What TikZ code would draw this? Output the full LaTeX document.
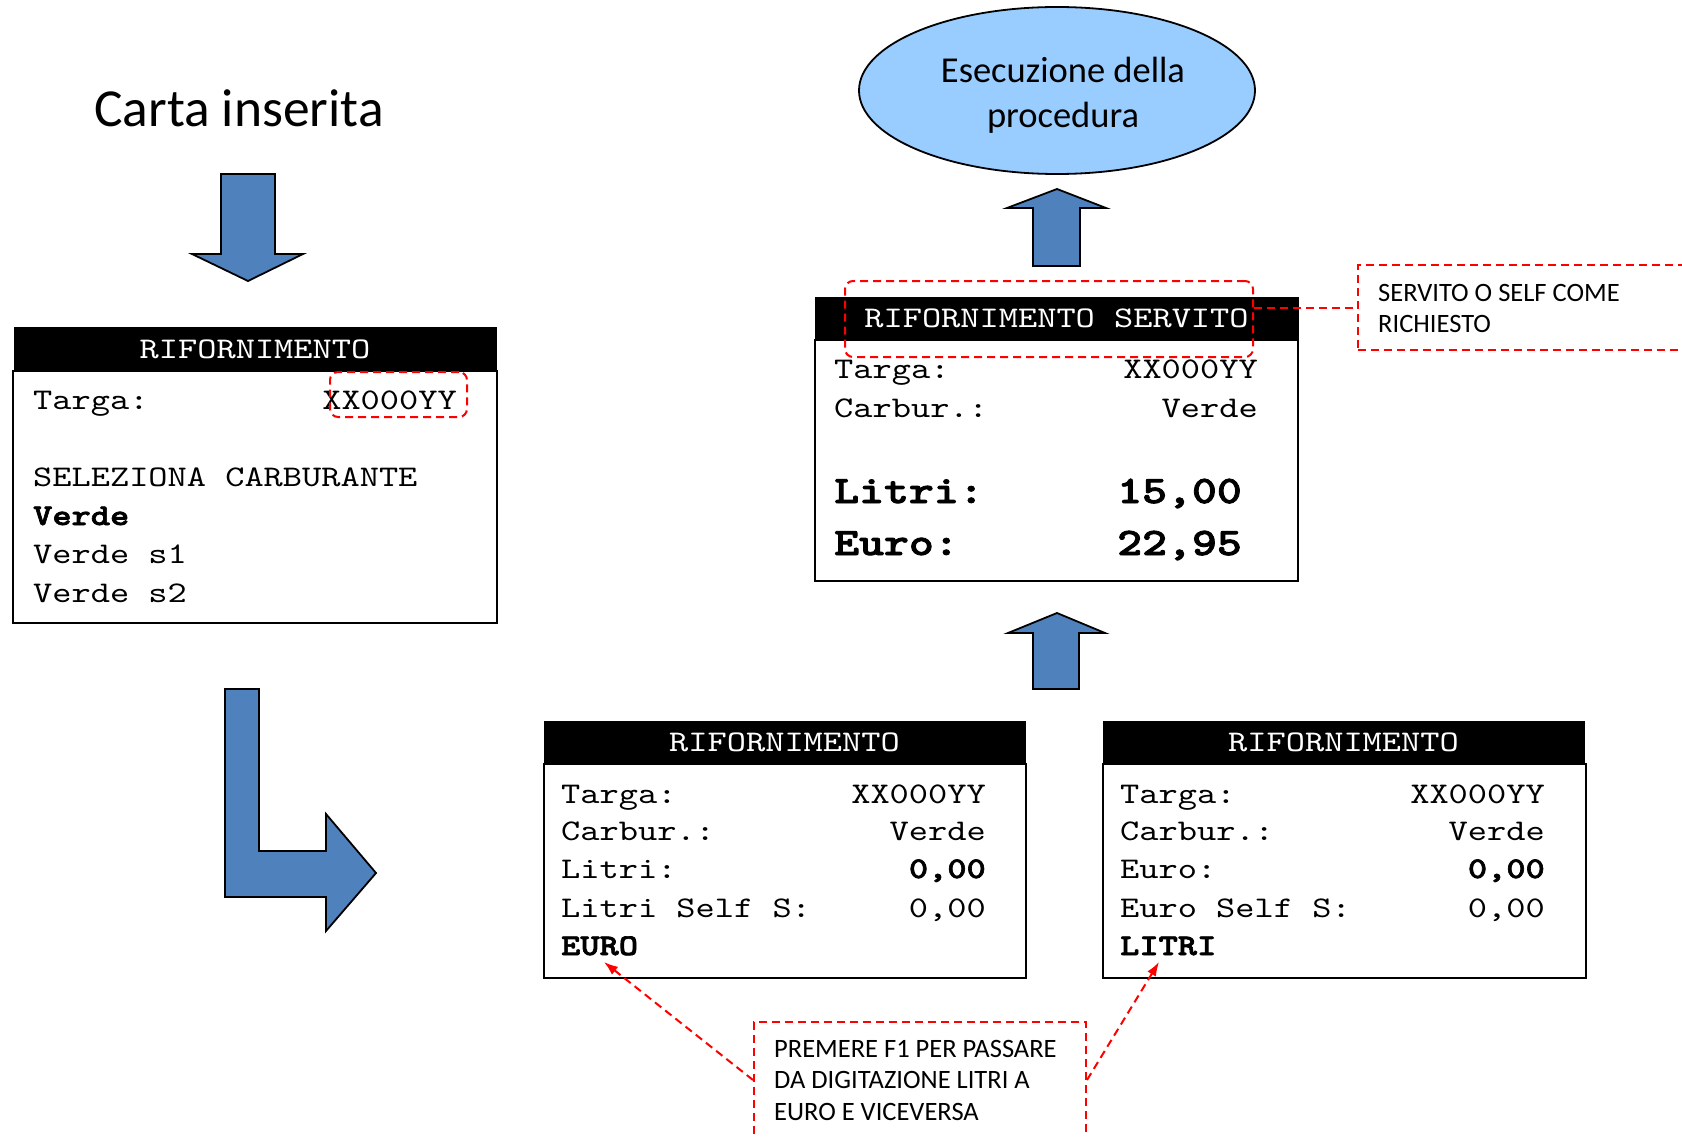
\documentclass[tikz,border=0pt]{standalone}
\usepackage{fontspec}
\usetikzlibrary{shapes.geometric,arrows.meta}
\newfontfamily\boxfont{lmmono10-regular}[Extension=.otf, BoldFont=lmmonolt10-bold, BoldFeatures={FakeBold=2.2}, FakeStretch=1.22]
\newfontfamily\notefont{Carlito}
\definecolor{arrowblue}{HTML}{4F81BD}
\definecolor{ellblue}{HTML}{99CCFF}
\definecolor{notered}{HTML}{FF0000}
\tikzset{
 hdr/.style={draw=black, fill=black, text=white, line width=1pt, inner sep=0pt, font=\boxfont\fontsize{30}{36}\selectfont},
 body/.style={draw=black, line width=2pt, fill=white, inner sep=0pt},
 tl/.style={anchor=base west, inner sep=0pt, font=\boxfont\fontsize{30}{36}\selectfont},
 tr/.style={anchor=base east, inner sep=0pt, font=\boxfont\fontsize{30}{36}\selectfont},
 tlb/.style={anchor=base west, inner sep=0pt, font=\boxfont\bfseries\fontsize{30}{36}\selectfont},
 trb/.style={anchor=base east, inner sep=0pt, font=\boxfont\bfseries\fontsize{30}{36}\selectfont},
 bigl/.style={anchor=base west, inner sep=0pt, font=\boxfont\bfseries\fontsize{38.9}{46}\selectfont},
 bigr/.style={anchor=base east, inner sep=0pt, font=\boxfont\bfseries\fontsize{38.9}{46}\selectfont},
 blockarrow/.style={fill=arrowblue, draw=black, line width=1.8pt, line join=miter},
 reddash/.style={draw=notered, line width=2pt, dash pattern=on 8pt off 5pt},
 hilite/.style={reddash, rounded corners=8pt, inner sep=0pt},
 note/.style={reddash, inner sep=0pt},
 notetext/.style={anchor=north west, inner sep=0pt, align=left, font=\notefont\fontsize{26.5}{31.5}\selectfont},
 redarrow/.style={reddash, -{Latex[length=14pt,width=10pt]}, shorten >=0pt}
}
\begin{document}
\begin{tikzpicture}[x=1pt,y=-1pt]
\path[use as bounding box] (0,0) rectangle (1682,1137);
\clip (0,0) rectangle (1682,1137);

% title
\node[anchor=base west, inner sep=0pt, font=\notefont\fontsize{53.5}{64}\selectfont] (title) at (94,127) {Carta inserita};

% down arrow
\path[blockarrow] (221,174) -- (275,174) -- (275,254) -- (303,254) -- (248,281) -- (192,254) -- (221,254) -- cycle;

% box 1
\node[body, minimum width=484pt, minimum height=252pt] (b1) at (255,497) {};
\node[hdr, minimum width=482pt, minimum height=44pt] (h1) at (255,349) {RIFORNIMENTO};
\node[tl] (b1a) at (33,409) {Targa:};
\node[tr] (b1b) at (457,409) {XX000YY};
\node[tl] (b1c) at (33,486) {SELEZIONA CARBURANTE};
\node[tlb] (b1d) at (33,525) {Verde};
\node[tl] (b1e) at (33,563) {Verde s1};
\node[tl] (b1f) at (33,602) {Verde s2};
\node[hilite, minimum width=137pt, minimum height=45pt] (hl1) at (398.5,394.5) {};

% L arrow
\path[blockarrow] (225,689) -- (259,689) -- (259,851) -- (326,851) -- (326,814) -- (376,873) -- (326,931) -- (326,897) -- (225,897) -- cycle;

% ellipse
\node[ellipse, draw=black, line width=1.8pt, fill=ellblue, minimum width=396pt, minimum height=167pt, inner sep=0pt] (exe) at (1057,90.5) {};
\node[anchor=base, inner sep=0pt, font=\notefont\fontsize{36.5}{44}\selectfont] (exe1) at (1063,83) {Esecuzione della};
\node[anchor=base, inner sep=0pt, font=\notefont\fontsize{36.5}{44}\selectfont] (exe2) at (1063,128) {procedura};

% up arrows
\path[blockarrow] (1033,266) -- (1080,266) -- (1080,208) -- (1106,208) -- (1057,189) -- (1007,208) -- (1033,208) -- cycle;
\path[blockarrow] (1033,689) -- (1079,689) -- (1079,633) -- (1105,633) -- (1057,613) -- (1008,633) -- (1033,633) -- cycle;

% box 2
\node[body, minimum width=483pt, minimum height=241pt] (b2) at (1056.5,460.5) {};
\node[hdr, minimum width=483pt, minimum height=43pt] (h2) at (1056.5,318.5) {RIFORNIMENTO SERVITO};
\node[tl] (b2a) at (834,378) {Targa:};
\node[tr] (b2b) at (1258,378) {XX000YY};
\node[tl] (b2c) at (834,417) {Carbur.:};
\node[tr] (b2d) at (1258,417) {Verde};
\node[bigl] (b2e) at (834,503) {Litri:};
\node[bigr] (b2f) at (1242,503) {15,00};
\node[bigl] (b2g) at (834,555) {Euro:};
\node[bigr] (b2h) at (1242,555) {22,95};
\node[hilite, minimum width=408pt, minimum height=76pt] (hl2) at (1049,319) {};

% right note
\node[note, minimum width=362pt, minimum height=85pt] (rn) at (1539,307.5) {};
\node[notetext] (rnt) at (1378,284) {SERVITO O SELF COME\\RICHIESTO};
\draw[reddash] (hl2.east |- rn.west) -- (rn.west);

% box 3
\node[body, minimum width=482pt, minimum height=214pt] (b3) at (785,871) {};
\node[hdr, minimum width=481pt, minimum height=43pt] (h3) at (784.5,742.5) {RIFORNIMENTO};
\node[tl] (b3a) at (561,803) {Targa:};
\node[tr] (b3b) at (986,803) {XX000YY};
\node[tl] (b3c) at (561,840) {Carbur.:};
\node[tr] (b3d) at (986,840) {Verde};
\node[tl] (b3e) at (561,878) {Litri:};
\node[trb] (b3f) at (986,878) {0,00};
\node[tl] (b3g) at (561,917) {Litri Self S:};
\node[tr] (b3h) at (986,917) {0,00};
\node[tlb] (euro) at (561,955) {EURO};

% box 4
\node[body, minimum width=483pt, minimum height=214pt] (b4) at (1344.5,871) {};
\node[hdr, minimum width=481pt, minimum height=43pt] (h4) at (1343.5,742.5) {RIFORNIMENTO};
\node[tl] (b4a) at (1120,803) {Targa:};
\node[tr] (b4b) at (1545,803) {XX000YY};
\node[tl] (b4c) at (1120,840) {Carbur.:};
\node[tr] (b4d) at (1545,840) {Verde};
\node[tl] (b4e) at (1120,878) {Euro:};
\node[trb] (b4f) at (1545,878) {0,00};
\node[tl] (b4g) at (1120,917) {Euro Self S:};
\node[tr] (b4h) at (1545,917) {0,00};
\node[tlb] (litri) at (1120,955) {LITRI};

% bottom note
\node[note, minimum width=332pt, minimum height=116pt] (bn) at (920,1080) {};
\node[notetext] (bnt) at (774,1040) {PREMERE F1 PER PASSARE\\DA DIGITAZIONE LITRI A\\EURO E VICEVERSA};
\coordinate (eurotip) at (604,962);
\coordinate (litritip) at (1159,962);
\draw[redarrow] (bn.west) -- (eurotip);
\draw[redarrow] (bn.east) -- (litritip);
\end{tikzpicture}
\end{document}
